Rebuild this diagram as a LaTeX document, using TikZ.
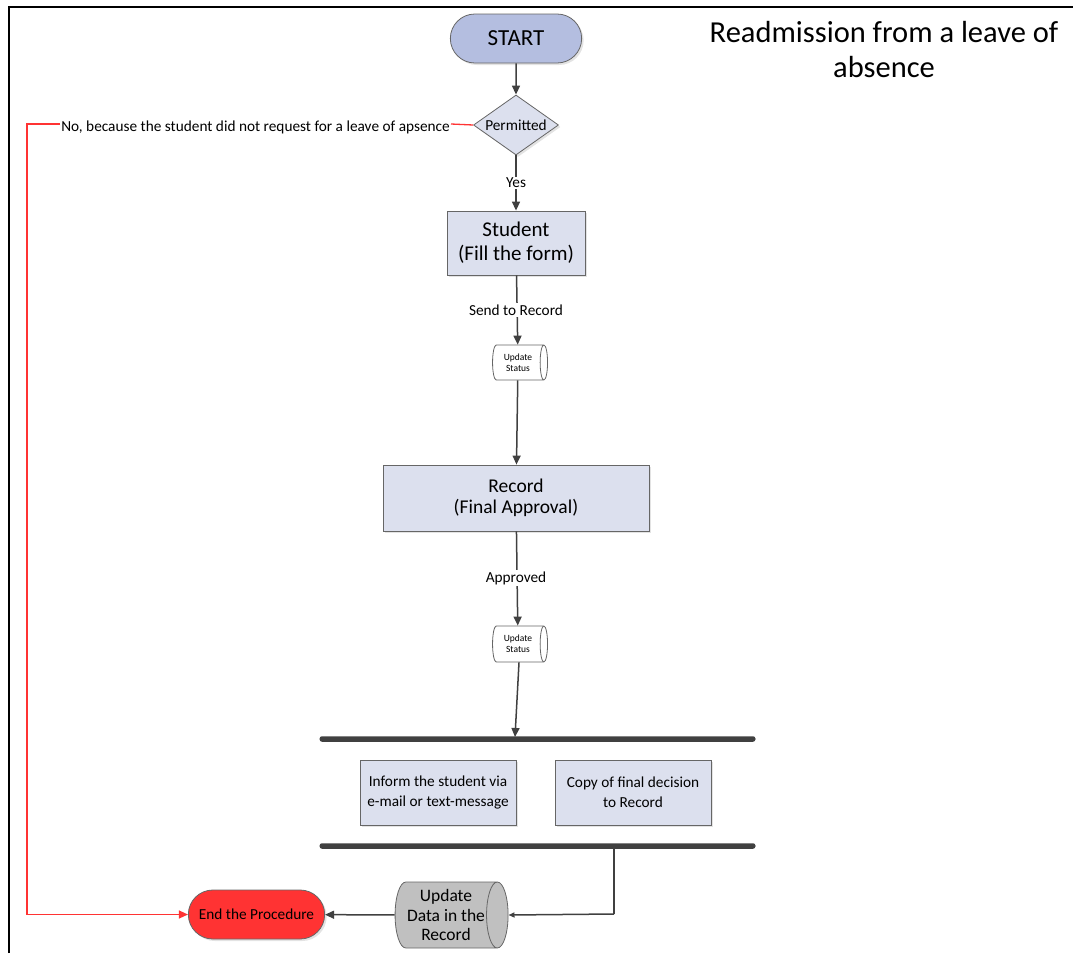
\documentclass[tikz,border=0pt]{standalone}
\usepackage{fontspec}
\setmainfont{Carlito}
\usetikzlibrary{shapes.geometric,shapes.misc,arrows.meta,shadows}
\definecolor{lineg}{HTML}{404040}
\definecolor{boxfill}{HTML}{DCE0EE}
\definecolor{startfill}{HTML}{B4BEE0}
\definecolor{endred}{HTML}{FF3333}
\definecolor{cylgrey}{HTML}{C0C0C0}
\newcommand{\fs}[2]{\fontsize{#1}{#2}\selectfont}
\tikzset{
  conn/.style={draw=lineg, line width=1.5pt},
  arr/.style={conn, -{Triangle[length=9pt,width=8pt]}},
  redline/.style={draw=endred, line width=1.3pt},
  shade/.style={drop shadow={shadow xshift=2pt, shadow yshift=-2pt, fill=black!18, opacity=0.6}},
  procbox/.style={draw=lineg!80, line width=0.8pt, fill=boxfill, shade, align=center, inner sep=0pt},
  term/.style={draw=lineg!80, line width=0.8pt, rounded rectangle, align=center, shade},
  drum/.style={cylinder, draw=lineg!80, line width=0.8pt, aspect=0.42, align=center, inner sep=0pt},
  bar/.style={fill=lineg, rounded corners=2.5pt, inner sep=0pt, minimum height=5.5pt},
  lbl/.style={fill=white, inner sep=1.5pt, font=\fs{15.3}{18}}
}
\begin{document}
\begin{tikzpicture}[x=1pt,y=-1pt]
\useasboundingbox (0,0) rectangle (1073,953);
% outer frame
\draw[black, line width=2pt] (9,953) -- (9,7) -- (1073,7);
% title
\node[align=center, font=\fs{30.5}{35}] (title) at (884,50) {Readmission from a leave of\\absence};

% flow nodes
\node[term, fill=startfill, minimum width=138pt, minimum height=49pt, font=\fs{23}{26}] (start) at (516,38.5) {START};
\node[diamond, draw=lineg!80, line width=0.8pt, fill=boxfill, shade, aspect=1.42, minimum width=85pt, minimum height=60pt, inner sep=0pt, font=\fs{15.3}{18}] (perm) at (516,125) {Permitted};
\node[procbox, minimum width=138pt, minimum height=64pt, font=\fs{21}{24}] (student) at (516,243) {Student\\(Fill the form)};
\node[drum, fill=white, minimum height=55pt, minimum width=35pt, font=\fs{9.5}{11}] (upd1) at (518,362.5) {Update\\Status};
\node[procbox, minimum width=266pt, minimum height=66pt, font=\fs{19.5}{21}] (record) at (516,498) {Record\\(Final Approval)};
\node[drum, fill=white, minimum height=55pt, minimum width=36pt, font=\fs{9.5}{11}] (upd2) at (518,644) {Update\\Status};
\node[bar, minimum width=436pt] (bar1) at (537.5,739) {};
\node[procbox, minimum width=156pt, minimum height=65pt, font=\fs{15.3}{20}] (inform) at (438,792.5) {Inform the student via\\e-mail or text-message};
\node[procbox, minimum width=156pt, minimum height=65pt, font=\fs{15.3}{20}] (copy) at (633,792.5) {Copy of final decision\\to Record};
\node[bar, minimum width=436pt] (bar2) at (537.5,846) {};
\node[drum, fill=cylgrey, minimum height=113pt, minimum width=66pt, font=\fs{17.5}{19.5}] (upd3) at (446,915) {Update\\Data in the\\Record};
\node[term, fill=endred, minimum width=143pt, minimum height=49pt, font=\fs{15.3}{18}] (endp) at (256.5,914.5) {End the Procedure};

% connectors
\draw[arr] (start) -- (perm);
\draw[arr] (perm) -- (student);
\draw[arr] (student) -- (upd1);
\draw[arr] (upd1) -- (record);
\draw[arr] (record) -- (upd2);
\coordinate (hit1) at (515,737);
\draw[arr] (upd2.south) ++(1,0) -- (hit1);
\coordinate (drop) at (614,914);
\draw[conn] (bar2.south -| drop) -- (drop);
\draw[arr, -{Triangle[length=6pt,width=5pt]}] (drop) -- (upd3.east);
\draw[arr] (upd3) -- (endp);

% labels on connectors
\node[lbl] (yes) at (516,183) {Yes};
\node[lbl] (send) at (516,310) {Send to Record};
\node[lbl] (appr) at (516,578) {Approved};
\node[font=\fs{15.3}{18}, inner sep=1pt, anchor=east] (no) at (451,127) {No, because the student did not request for a leave of apsence};

% refusal path
\draw[redline] (perm.west) -- (no.east |- 0,124);
\coordinate (bend) at (27,124);
\draw[redline, -{Triangle[length=9pt,width=8pt]}] (no.west |- 0,124) -- (bend) |- (endp.west);
\end{tikzpicture}
\end{document}
